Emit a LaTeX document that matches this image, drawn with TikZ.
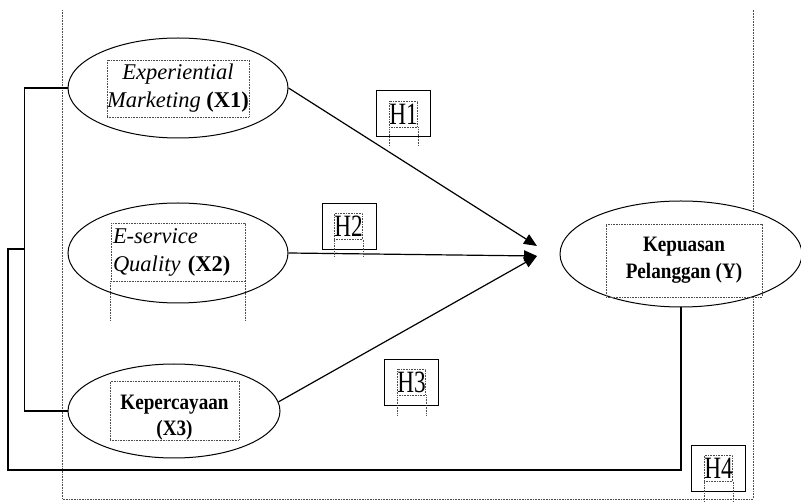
\documentclass[tikz,border=0pt]{standalone}
\usepackage{fontspec}
\setmainfont{Liberation Serif}
\newfontfamily\narrowbf[FakeStretch=0.87]{Liberation Serif}
\newfontfamily\hypfont[FakeStretch=0.75]{Liberation Serif}
\usetikzlibrary{arrows.meta,positioning,shapes.geometric,calc}

\begin{document}
\begin{tikzpicture}[
  x=1pt, y=-1pt,
  construct/.style={draw,ellipse,fill=white,line width=1pt,inner sep=0pt},
  txtframe/.style={draw=black!70,line width=0.7pt,dash pattern=on 0.8pt off 0.8pt},
  tframe/.style={txtframe,inner sep=0pt,align=center},
  itfont/.style={font=\fontsize{22.5}{28}\selectfont\itshape},
  bdfont/.style={font=\narrowbf\bfseries\fontsize{22}{27}\selectfont},
  hbox/.style={draw,line width=1pt,minimum width=54pt,minimum height=46pt,inner sep=0pt},
  hlab/.style={txtframe,minimum width=27pt,minimum height=26pt,inner sep=0pt,
    font=\hypfont\fontsize{31}{32}\selectfont},
  arrow/.style={-{Triangle[length=13pt,width=11pt]},line width=1.2pt},
  link/.style={line width=1.2pt}
]
\useasboundingbox (0,0) rectangle (801,502);
% outer text frame
\draw[txtframe] (62,10) -- (62,499) -- (753,499) -- (753,10);

% constructs
\node[construct,minimum width=220pt,minimum height=100pt] (x1) at (178,88) {};
\node[construct,minimum width=220pt,minimum height=100pt] (x2) at (178,253) {};
\node[construct,minimum width=212pt,minimum height=94pt] (x3) at (174,411) {};
\node[construct,minimum width=242pt,minimum height=106pt] (y) at (681,254) {};

\node[tframe,itfont,minimum width=134pt,minimum height=57pt] (x1t) at (178,88.5)
  {Experiential\\Marketing {\upshape\bfseries(X1)}};
\node[tframe,itfont,minimum width=134pt,minimum height=58pt,text width=130pt,align=left] (x2t) at (178,252)
  {E-service\\Quality {\upshape\bfseries(X2)}};
\draw[txtframe] (x2t.south west) -- ++(0,39);
\draw[txtframe] (x2t.south east) -- ++(0,39);
\node[txtframe,inner sep=0pt] (x3t) at (174.5,411)
  {\parbox[c][54pt][b]{129pt}{\centering\narrowbf\bfseries\fontsize{22}{26}\selectfont Kepercayaan\\(X3)}};
\node[tframe,bdfont,minimum width=156pt,minimum height=73pt] (yt) at (684,260.5)
  {Kepuasan\\Pelanggan (Y)};

% paths to Y
\coordinate (tipa) at (537,246);
\coordinate (tipb) at (537,256);
\draw[arrow] (x1.east) -- (tipa);
\draw[arrow] (x2.east) -- (tipb);
\draw[arrow] (x3.5) -- (tipb);

% moderating link
\coordinate (tap) at (25,249);
\coordinate (low) at (8,470);
\draw[link] (x1.west) -- ++(-43,0) |- (x3.west);
\draw[link] (tap) -| (low) -| (y.south);

% hypotheses
\node[hbox] (h1) at (403,114) {};
\node[hlab] (h1l) at (403.5,114) {H1};
\draw[txtframe] (h1l.south west) -- ++(0,19) (h1l.south east) -- ++(0,19);
\node[hbox] (h2) at (349,226.5) {};
\node[hlab] (h2l) at (348.5,226.5) {H2};
\draw[txtframe] (h2l.south west) -- ++(0,17) (h2l.south east) -- ++(0,17);
\node[hbox] (h3) at (411,382.5) {};
\node[hlab] (h3l) at (411.5,382) {H3};
\draw[txtframe] (h3l.south west) -- ++(0,20) (h3l.south east) -- ++(0,20);
\node[hbox] (h4) at (718.5,469) {};
\node[hlab] (h4l) at (718.5,468.5) {H4};
\draw[txtframe] (h4l.south west) -- ++(0,20) (h4l.south east) -- ++(0,20);
\end{tikzpicture}
\end{document}
